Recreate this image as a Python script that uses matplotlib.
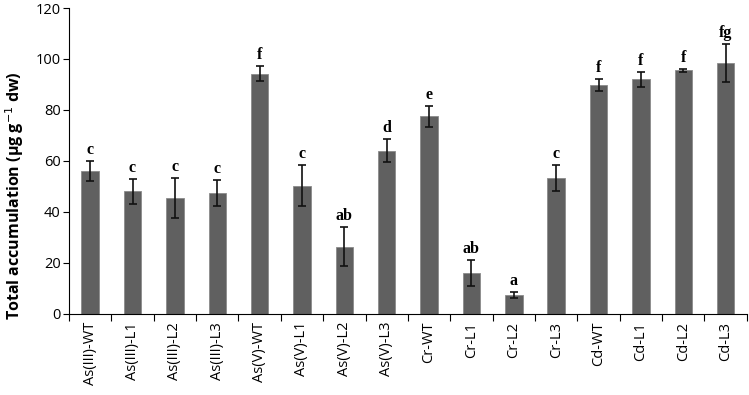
import numpy as np
import matplotlib.pyplot as plt

labels = ["As(III)-WT", "As(III)-L1", "As(III)-L2", "As(III)-L3",
          "As(V)-WT", "As(V)-L1", "As(V)-L2", "As(V)-L3",
          "Cr-WT", "Cr-L1", "Cr-L2", "Cr-L3",
          "Cd-WT", "Cd-L1", "Cd-L2", "Cd-L3"]
values = [56.0, 48.0, 45.4, 47.4, 94.2, 50.2, 26.3, 64.0,
          77.4, 16.0, 7.3, 53.3, 89.8, 92.0, 95.5, 98.4]
errors = [4.0, 5.0, 7.7, 5.0, 3.0, 8.0, 7.5, 4.5,
          4.2, 5.0, 1.3, 5.0, 2.3, 3.0, 0.5, 7.5]
letters = ["c", "c", "c", "c", "f", "c", "ab", "d",
           "e", "ab", "a", "c", "f", "f", "f", "fg"]

fig = plt.figure(figsize=(7.49, 3.95), dpi=100)
ax = fig.add_axes([0.0921, 0.2063, 0.905, 0.7734])

x = np.arange(len(labels))
ax.bar(x, values, width=0.41, color="#606060", edgecolor="#8a8a8a", linewidth=0.6, zorder=2)
ax.errorbar(x, values, yerr=errors, fmt="none", ecolor="#111111",
            elinewidth=1.2, capsize=3, capthick=1.2, zorder=3)

for xi, v, e, t in zip(x, values, errors, letters):
    ax.text(xi, v + e + 1.2, t, ha="center", va="bottom",
            family="Liberation Serif", fontweight="bold", fontsize=11.5)

ax.set_xlim(-0.5, len(labels) - 0.5)
ax.set_ylim(0, 120)
ax.set_yticks(range(0, 121, 20))
ax.tick_params(axis="y", labelsize=10.5, length=4, width=0.8, pad=2)

# category labels centred, tick marks on the boundaries
ax.set_xticks(x)
ax.set_xticklabels(labels, rotation=90, fontsize=10.5, family="Open Sans")
ax.tick_params(axis="x", which="major", length=0, pad=6)
ax.set_xticks(np.arange(-0.5, len(labels)), minor=True)
ax.tick_params(axis="x", which="minor", length=5, width=0.8)

for lab in ax.get_yticklabels():
    lab.set_family("Open Sans")

ax.spines["top"].set_visible(False)
ax.spines["right"].set_visible(False)
ax.spines["left"].set_linewidth(0.8)
ax.spines["bottom"].set_linewidth(0.8)

ax.set_ylabel("Total accumulation (µg g$^{-1}$ dw)", family="Open Sans",
              fontweight="bold", fontsize=11.5)
ax.yaxis.set_label_coords(-0.064, 0.385)

fig.savefig("out.png", dpi=100)
